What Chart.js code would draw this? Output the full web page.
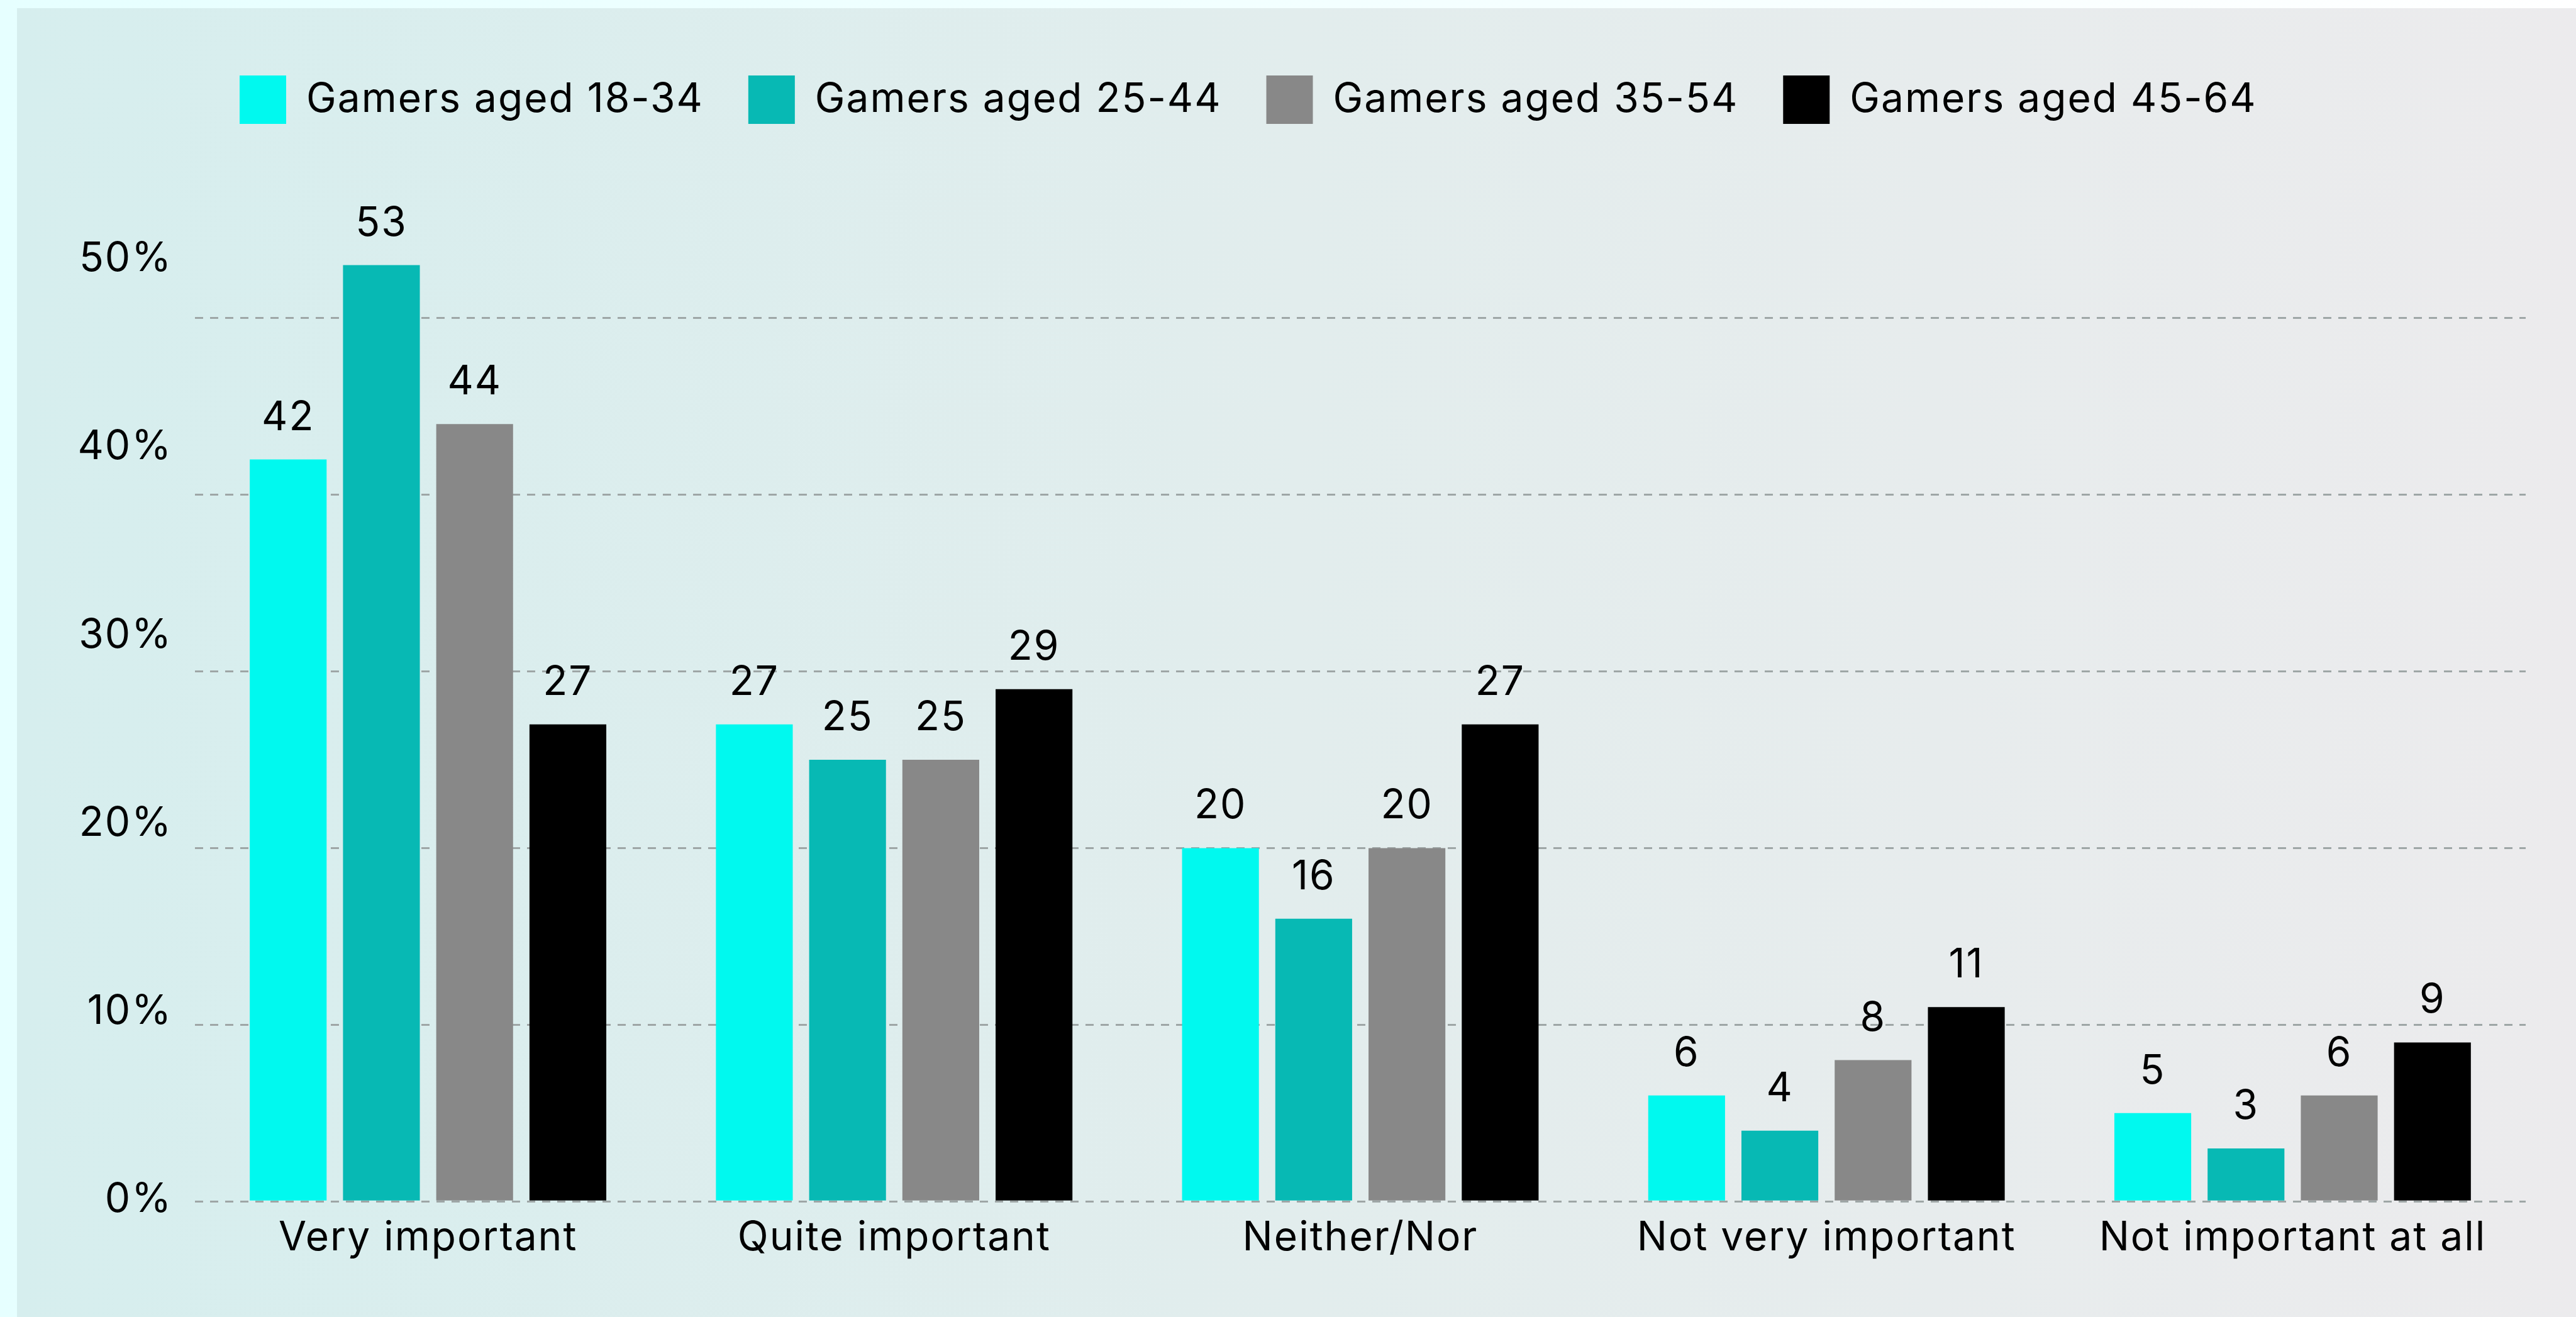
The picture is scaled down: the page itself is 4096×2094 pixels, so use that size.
<!DOCTYPE html>
<html>
<head>
<meta charset="utf-8">
<script src="https://cdn.jsdelivr.net/npm/chart.js@4"></script>
<style>
    html, body { margin: 0; padding: 0; }
    body {
        width: 4096px; height: 2094px; overflow: hidden; position: relative;
        background: linear-gradient(to right, #e6ffff, #ffffff);
    }
    #panel {
        position: absolute; left: 27px; top: 13px; right: 0; bottom: 0;
        background: linear-gradient(to right, #d6eeee, #e2eded 50%, #ecebed);
    }
    #wrap { position: absolute; left: 0; top: 0; width: 4096px; height: 2094px; }
</style>
</head>
<body>
<div id="panel"></div>
<div id="wrap"><canvas id="chart" width="4096" height="2094"></canvas></div>
<script>
const categories = ['Very important', 'Quite important', 'Neither/Nor', 'Not very important', 'Not important at all'];
const seriesNames = ['Gamers aged 18-34', 'Gamers aged 25-44', 'Gamers aged 35-54', 'Gamers aged 45-64'];
const aged18to34 = [42, 27, 20, 6, 5];
const aged25to44 = [53, 25, 16, 4, 3];
const aged35to54 = [44, 25, 20, 8, 6];
const aged45to64 = [27, 29, 27, 11, 9];
const yTicks = [0, 10, 20, 30, 40, 50];

const colors = ['#00f9ef', '#07b9b4', '#888888', '#000000'];
const FONT = 'Inter';
const SIZE = 64;

// the original font runs wider than Inter, so open it up a little
const spacing = {
    id: 'spacing',
    beforeInit(chart) { chart.ctx.letterSpacing = '2px'; },
    beforeUpdate(chart) { chart.ctx.letterSpacing = '2px'; },
    beforeDraw(chart) { chart.ctx.letterSpacing = '2px'; }
};

// value labels drawn above each bar
const valueLabels = {
    id: 'valueLabels',
    afterDatasetsDraw(chart) {
        const ctx = chart.ctx;
        ctx.save();
        ctx.font = SIZE + 'px ' + FONT;
        ctx.fillStyle = '#000';
        ctx.textAlign = 'center';
        ctx.textBaseline = 'alphabetic';
        chart.data.datasets.forEach((ds, i) => {
            chart.getDatasetMeta(i).data.forEach((bar, j) => {
                ctx.fillText(ds.data[j], bar.x, bar.y - 47);
            });
        });
        ctx.restore();
    }
};

const yMax = 60.64;

new Chart(document.getElementById('chart'), {
    type: 'bar',
    data: {
        labels: categories,
        datasets: [aged18to34, aged25to44, aged35to54, aged45to64].map((d, i) => ({
            label: seriesNames[i],
            data: d,
            backgroundColor: colors[i],
            borderWidth: 0,
            categoryPercentage: 0.8,
            barPercentage: 0.824
        }))
    },
    options: {
        responsive: false,
        animation: false,
        layout: { padding: { left: 0, right: 80, top: 49, bottom: 67 } },
        plugins: {
            legend: {
                position: 'top',
                align: 'start',
                fullSize: false,
                labels: {
                    boxWidth: 74,
                    boxHeight: 77,
                    padding: 71,
                    color: '#000',
                    font: { family: FONT, size: SIZE }
                }
            },
            tooltip: { enabled: false }
        },
        scales: {
            x: {
                grid: { display: false, drawTicks: false },
                border: { display: false },
                ticks: { color: '#000', padding: 20, font: { family: FONT, size: SIZE } }
            },
            y: {
                min: 0,
                max: yMax,
                afterBuildTicks: axis => { axis.ticks = yTicks.map(v => ({ value: v })); },
                grid: { color: '#9ea6a6', lineWidth: 3, drawTicks: false },
                border: { display: false, dash: [13, 11] },
                ticks: { display: false }
            },
            // labels sit on their own spacing, a little wider than the grid
            yLabels: {
                position: 'left',
                min: -0.07,
                max: 56.84,
                afterBuildTicks: axis => { axis.ticks = yTicks.map(v => ({ value: v })); },
                afterFit: axis => { axis.width = 310; },
                grid: { display: false },
                border: { display: false },
                ticks: {
                    color: '#000',
                    padding: 28,
                    font: { family: FONT, size: SIZE },
                    callback: v => v + '%'
                }
            }
        }
    },
    plugins: [spacing, valueLabels]
});
</script>
</body>
</html>
